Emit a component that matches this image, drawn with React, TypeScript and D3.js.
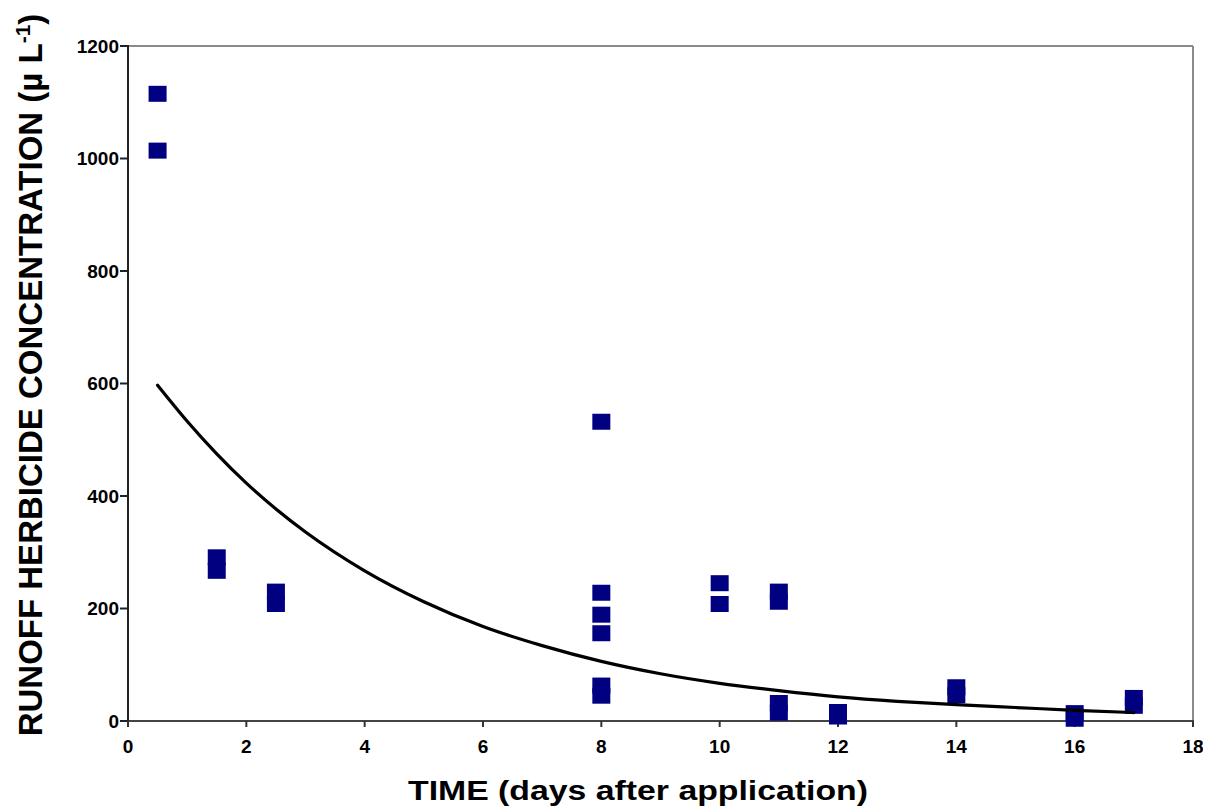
import React from "react";
import * as d3 from "d3";

// Observed runoff concentrations (x = days after application, y = µ L-1)
const pointDays = [0.5, 0.5, 1.5, 1.5, 2.5, 2.5, 8, 8, 8, 8, 8, 8, 10, 10, 11, 11, 11, 11, 12, 12, 14, 14, 16, 16, 17, 17];
const pointValues = [1115, 1014, 291, 267, 230, 208, 532, 228, 189, 156, 63, 45, 245, 208, 230, 212, 32, 15, 16, 8, 60, 46, 14, 4, 41, 27];

// Trend curve
const curveDays = [0.5, 1, 1.5, 2, 2.5, 3, 4, 5, 6, 7, 8, 9, 10, 11, 12, 13, 14, 15, 16, 17];
const curveValues = [597, 533, 475, 423, 377, 336, 267, 212, 168, 134, 106, 84, 67, 54, 43, 35, 29, 24, 19, 15];

const xTicks = [0, 2, 4, 6, 8, 10, 12, 14, 16, 18];
const yTicks = [0, 200, 400, 600, 800, 1000, 1200];

const FONT = "'Liberation Sans', Arial, Helvetica, sans-serif";

export default function App() {
  const left = 128, right = 1193, top = 46, bottom = 721;
  const x = d3.scaleLinear().domain([0, 18]).range([left, right]);
  const y = d3.scaleLinear().domain([0, 1200]).range([bottom, top]);

  const line = d3
    .line<number>()
    .x((_, i) => x(curveDays[i]))
    .y((d) => y(d))
    .curve(d3.curveMonotoneX);

  const mw = 18, mh = 16;

  return (
    <svg
      width={1210}
      height={811}
      style={{ position: "absolute", left: 0, top: 0, background: "#fff" }}
      fontFamily={FONT}
    >
      <defs>
        <clipPath id="pageclip">
          <rect x={0} y={0} width={1203} height={811} />
        </clipPath>
      </defs>
      <rect x={0} y={0} width={1210} height={811} fill="#fff" />

      {/* frame */}
      <line x1={left} x2={right} y1={top} y2={top} stroke="#8a8a8a" strokeWidth={2} />
      <line x1={right} x2={right} y1={top} y2={bottom} stroke="#8a8a8a" strokeWidth={2} />
      <line x1={left} x2={right + 1} y1={bottom} y2={bottom} stroke="#444" strokeWidth={2} />
      <line x1={left} x2={left} y1={top - 1} y2={bottom + 1} stroke="#222" strokeWidth={2} />

      {/* y ticks */}
      {yTicks.map((t) => (
        <g key={"y" + t}>
          <line x1={left - 8} x2={left} y1={y(t)} y2={y(t)} stroke="#222" strokeWidth={2} />
          <text
            x={left - 9}
            y={y(t)}
            dy="0.36em"
            textAnchor="end"
            fontSize={19}
            fontWeight="bold"
            fill="#000"
          >
            {t}
          </text>
        </g>
      ))}

      {/* x ticks */}
      <g clipPath="url(#pageclip)">
        {xTicks.map((t) => (
          <g key={"x" + t}>
            <line x1={x(t)} x2={x(t)} y1={bottom} y2={bottom + 6} stroke="#333" strokeWidth={2} />
            <text x={x(t)} y={753} textAnchor="middle" fontSize={19} fontWeight="bold" fill="#000">
              {t}
            </text>
          </g>
        ))}
      </g>

      {/* markers */}
      {pointDays.map((d, i) => (
        <rect
          key={"p" + i}
          x={x(d) - mw / 2}
          y={y(pointValues[i]) - mh / 2}
          width={mw}
          height={mh}
          fill="#000080"
        />
      ))}

      {/* trend curve */}
      <path d={line(curveValues) || ""} fill="none" stroke="#000" strokeWidth={3.2} strokeLinecap="round" />

      {/* axis titles */}
      <text
        x={408}
        y={800}
        fontSize={27}
        fontWeight="bold"
        textLength={460}
        lengthAdjust="spacingAndGlyphs"
        fill="#000"
      >
        TIME (days after application)
      </text>
      <text
        transform={`translate(42, 375) rotate(-90)`}
        textAnchor="middle"
        fontSize={33}
        fontWeight="bold"
        fill="#000"
      >
        RUNOFF HERBICIDE CONCENTRATION (µ L
        <tspan dy={-12} fontSize={21}>-1</tspan>
        <tspan dy={12}>)</tspan>
      </text>
    </svg>
  );
}
